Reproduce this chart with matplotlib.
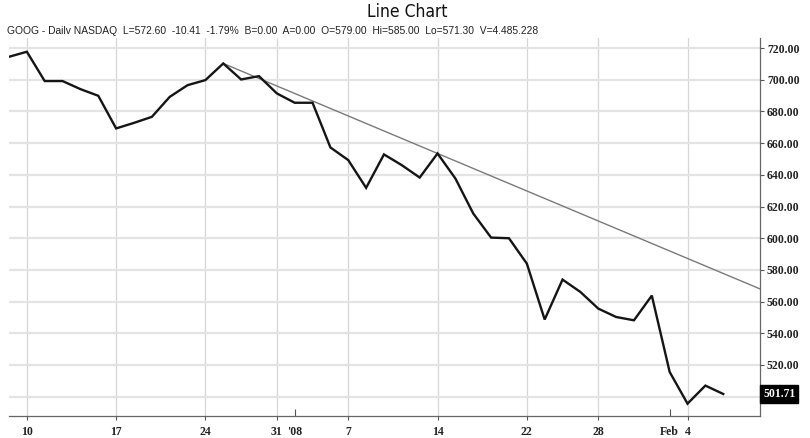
import numpy as np
import matplotlib
matplotlib.use("Agg")
from matplotlib import pyplot as plt
from matplotlib import transforms

# Торговые дни GOOG (дек. 2007 - фев. 2008) и цены закрытия
dates = ["2007-12-07", "2007-12-10", "2007-12-11", "2007-12-12", "2007-12-13",
         "2007-12-14", "2007-12-17", "2007-12-18", "2007-12-19", "2007-12-20",
         "2007-12-21", "2007-12-24", "2007-12-26", "2007-12-27", "2007-12-28",
         "2007-12-31", "2008-01-02", "2008-01-03", "2008-01-04", "2008-01-07",
         "2008-01-08", "2008-01-09", "2008-01-10", "2008-01-11", "2008-01-14",
         "2008-01-15", "2008-01-16", "2008-01-17", "2008-01-18", "2008-01-22",
         "2008-01-23", "2008-01-24", "2008-01-25", "2008-01-28", "2008-01-29",
         "2008-01-30", "2008-01-31", "2008-02-01", "2008-02-04", "2008-02-05",
         "2008-02-06"]
closes = [714.5, 717.7, 699.2, 699.2, 694.1, 689.9, 669.3, 672.8, 676.6, 689.2,
          696.6, 699.8, 710.3, 700.2, 702.3, 691.4, 685.5, 685.5, 657.3, 649.3,
          631.8, 652.9, 646.1, 638.3, 653.5, 637.7, 615.6, 600.4, 600.0, 584.0,
          548.7, 573.9, 566.1, 555.6, 550.3, 548.2, 563.8, 515.6, 495.6, 507.0,
          501.7]

# линия тренда через два максимума
trend_from = "2007-12-26"
trend_through = "2008-01-14"

grid_days = ["2007-12-10", "2007-12-17", "2007-12-24", "2007-12-31", "2008-01-07",
             "2008-01-14", "2008-01-22", "2008-01-28", "2008-02-04"]
grid_labels = ["10", "17", "24", "31", "7", "14", "22", "28", "4"]
marker_days = ["2008-01-02", "2008-02-01"]
marker_labels = ["'08", "Feb"]

price_ticks = list(range(500, 721, 20))
last_price = 501.71

header = ("GOOG - Dailv NASDAQ  L=572.60  -10.41  -1.79%  B=0.00  A=0.00  "
          "O=579.00  Hi=585.00  Lo=571.30  V=4.485.228")

x = np.arange(len(dates))
x_right = 42.06

fig = plt.figure(figsize=(8.1, 4.38), dpi=100)
ax = fig.add_axes([0.0111, 0.0502, 0.9272, 0.8628])

ax.plot(x, closes, color="#151515", lw=1.7, solid_joinstyle="miter", zorder=3)

i0, i1 = dates.index(trend_from), dates.index(trend_through)
slope = (closes[i1] - closes[i0]) / (i1 - i0)
tx = np.array([i0, x_right])
ax.plot(tx, closes[i0] + slope * (tx - i0), color="#7a7a7a", lw=1.0, zorder=2)

ax.set_xlim(0, x_right)
ax.set_ylim(487.8, 726.3)

# ось цен справа
ax.yaxis.tick_right()
ax.set_yticks(price_ticks)
ax.set_yticklabels(["" if v == 500 else f"{v:.2f}" for v in price_ticks],
                   family="Liberation Serif", fontweight="bold", fontsize=8.5,
                   color="#222222")
ax.tick_params(axis="y", length=3, width=0.8, color="#555555", pad=2)

ax.set_xticks([dates.index(d) for d in grid_days])
ax.set_xticklabels(grid_labels, family="Liberation Serif", fontweight="bold",
                   fontsize=8.5, color="#222222")
ax.set_xticks([dates.index(d) for d in marker_days], minor=True)
ax.set_xticklabels(marker_labels, minor=True, family="Liberation Serif",
                   fontweight="bold", fontsize=8.5, color="#222222")
ax.tick_params(axis="x", which="major", length=3, width=0.8, color="#555555", pad=4)
ax.tick_params(axis="x", which="minor", direction="in", length=5, width=0.8,
               color="#555555", pad=7)

ax.grid(axis="y", color="#e4e4e4", lw=1.6)
ax.grid(axis="x", which="major", color="#d6d6d6", lw=0.9)
ax.set_axisbelow(True)

for s in ["top", "left"]:
    ax.spines[s].set_visible(False)
for s in ["bottom", "right"]:
    ax.spines[s].set_color("#666666")
    ax.spines[s].set_linewidth(0.9)

# метка последней цены
trans = transforms.blended_transform_factory(ax.transAxes, ax.transData)
ax.text(1.004, last_price, f"{last_price:.2f}", transform=trans, ha="left",
        va="center", color="white", family="Liberation Serif",
        fontweight="bold", fontsize=8.5,
        bbox=dict(boxstyle="square,pad=0.25", fc="black", ec="black"))

fig.text(0.503, 0.972, "Line Chart", ha="center", va="center",
         family="DejaVu Sans", fontstretch="condensed", fontsize=12.5,
         color="#111111")
fig.text(0.009, 0.93, header, ha="left", va="center", family="Liberation Sans",
         fontsize=7.4, color="#222222")

fig.savefig("out.png", dpi=100)
